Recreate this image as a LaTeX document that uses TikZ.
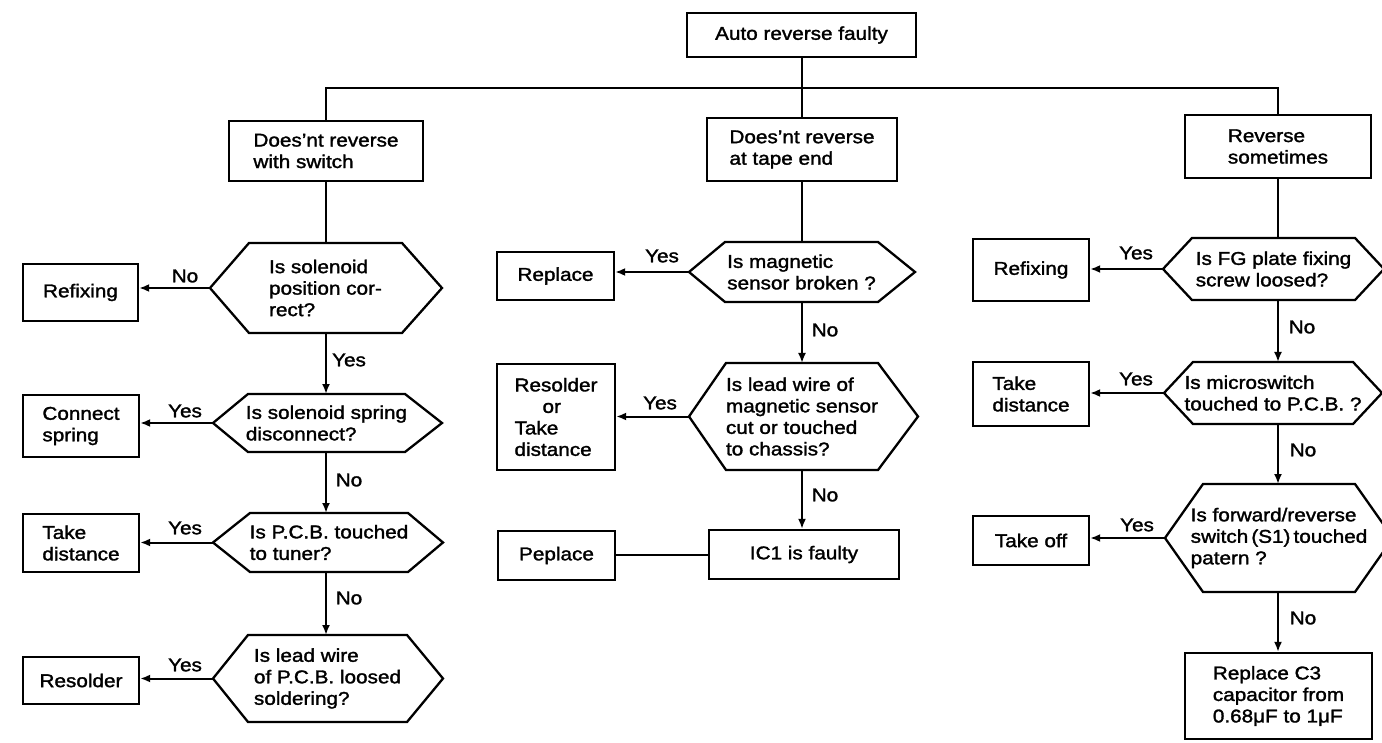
\documentclass[tikz,border=0pt]{standalone}
\usepackage{fontspec}
\setmainfont{Liberation Sans}[FakeStretch=1.12,FakeBold=1.6]
\usetikzlibrary{arrows.meta}

\tikzset{
  every node/.style={font=\fontsize{18.5}{21.5}\selectfont},
  box/.style={draw, line width=2.3pt, inner sep=0pt, align=left},
  qtext/.style={inner sep=0pt, align=left},
  hexline/.style={line width=2.3pt, line join=miter},
  conn/.style={line width=2pt},
  arrow/.style={conn, -{Latex[length=10pt,width=8pt]}},
  lab/.style={inner sep=0pt},
}

% question hexagon: name, left tip x, inner left x, inner right x, right tip x, top y, bottom y, text
\newcommand\hexnode[8]{%
  \draw[hexline] (#2,{(#6+#7)/2}) -- (#3,#6) -- (#4,#6) -- (#5,{(#6+#7)/2})
     -- (#4,#7) -- (#3,#7) -- cycle;
  \node[qtext] (#1) at ({(#3+#4)/2},{(#6+#7)/2}) {#8};
  \coordinate (#1-w) at (#2,{(#6+#7)/2});
  \coordinate (#1-n) at ({(#3+#4)/2},#6);
  \coordinate (#1-s) at ({(#3+#4)/2},#7);
}

\begin{document}
\begin{tikzpicture}[x=1pt,y=-1pt]
\clip (0,0) rectangle (1382,743);
\fill[white] (0,0) rectangle (1382,743);

% root and the three symptoms
\node[box, minimum width=229pt, minimum height=44pt] (top) at (801.5,35) {Auto reverse faulty};
\node[box, minimum width=194pt, minimum height=60pt] (b1) at (326,151) {Does’nt reverse\\with switch};
\node[box, minimum width=190pt, minimum height=63pt] (b2) at (802,149.5) {Does’nt reverse\\at tape end};
\node[box, minimum width=186pt, minimum height=63pt] (b3) at (1278,146.5) {Reverse\\sometimes};

\coordinate (jn) at (801.5,88);
\draw[conn] (top.south) -- (jn);
\draw[conn] (b1.north) |- (jn) -| (b3.north);
\draw[conn] (jn) -- (jn |- b2.north);

% ---- left column
\hexnode{L1}{210}{249}{402}{442}{243}{333}{Is solenoid\\position cor-\\rect?}
\hexnode{L2}{213}{248}{405}{442}{394}{452}{Is solenoid spring\\disconnect?}
\hexnode{L3}{213}{250}{408}{443}{513}{572}{Is P.C.B. touched\\to tuner?}
\hexnode{L4}{213}{248}{407}{443}{635}{722}{Is lead wire\\of P.C.B. loosed\\soldering?}

\node[box, minimum width=115pt, minimum height=57pt] (rfx1) at (80.5,292.5) {Refixing};
\node[box, minimum width=116pt, minimum height=62pt] (spr) at (81,426) {Connect\\spring};
\node[box, minimum width=116pt, minimum height=58pt] (tkd1) at (81,543) {Take\\distance};
\node[box, minimum width=116pt, minimum height=47pt] (rsl) at (81,680.5) {Resolder};

\draw[conn] (b1.south) -- (b1.south |- L1-n);
\draw[arrow] (b1.south |- L1-s) -- (b1.south |- L2-n);
\draw[arrow] (b1.south |- L2-s) -- (b1.south |- L3-n);
\draw[arrow] (b1.south |- L3-s) -- (b1.south |- L4-n);
\draw[arrow] (L1-w) -- (L1-w -| rfx1.east);
\draw[arrow] (L2-w) -- (L2-w -| spr.east);
\draw[arrow] (L3-w) -- (L3-w -| tkd1.east);
\draw[arrow] (L4-w) -- (L4-w -| rsl.east);

\node[lab] (lL1) at (185,276) {No};
\node[lab] (lL2) at (349,360) {Yes};
\node[lab] (lL3) at (185,411) {Yes};
\node[lab] (lL4) at (349,480) {No};
\node[lab] (lL5) at (185,528) {Yes};
\node[lab] (lL6) at (349,598) {No};
\node[lab] (lL7) at (185,665) {Yes};

% ---- middle column
\hexnode{M1}{689}{725}{878}{915}{242}{302}{Is magnetic\\sensor broken ?}
\hexnode{M2}{689}{726}{878}{918}{363}{470}{Is lead wire of\\magnetic sensor\\cut or touched\\to chassis?}

\node[box, minimum width=117pt, minimum height=48pt] (rpl) at (555.5,276) {Replace};
\node[box, minimum width=118pt, minimum height=106pt] (rso) at (556,417) {Resolder\\\hspace*{28pt}or\\Take\\distance};
\node[box, minimum width=117pt, minimum height=49pt] (pep) at (556.5,555.5) {Peplace};
\node[box, minimum width=190pt, minimum height=49pt] (ic1) at (804,554.5) {IC1 is faulty};

\draw[conn] (b2.south) -- (b2.south |- M1-n);
\draw[arrow] (b2.south |- M1-s) -- (b2.south |- M2-n);
\draw[arrow] (b2.south |- M2-s) -- (b2.south |- ic1.north);
\draw[arrow] (M1-w) -- (M1-w -| rpl.east);
\draw[arrow] (M2-w) -- (M2-w -| rso.east);
\draw[conn] (ic1.west) -- (ic1.west -| pep.east);

\node[lab] (lM1) at (662,256) {Yes};
\node[lab] (lM2) at (825,330) {No};
\node[lab] (lM3) at (660,403) {Yes};
\node[lab] (lM4) at (825,495) {No};

% ---- right column
\hexnode{R1}{1163}{1192}{1355}{1384}{238}{300}{Is FG plate fixing\\screw loosed?}
\hexnode{R2}{1164}{1193}{1353}{1382}{362}{424}{Is microswitch\\touched to P.C.B. ?}
\hexnode{R3}{1165}{1203}{1355}{1393}{484}{592}{Is forward/reverse\\switch\,(S1)\,touched\\patern ?}

\node[box, minimum width=116pt, minimum height=62pt] (rfx2) at (1031,270) {Refixing};
\node[box, minimum width=116pt, minimum height=64pt] (tkd2) at (1031,394) {Take\\distance};
\node[box, minimum width=116pt, minimum height=49pt] (tko) at (1031,540.5) {Take off};
\node[box, minimum width=187pt, minimum height=86pt] (c3) at (1278.5,696) {Replace C3\\capacitor from\\0.68μF to 1μF};

\draw[conn] (b3.south) -- (b3.south |- R1-n);
\draw[arrow] (b3.south |- R1-s) -- (b3.south |- R2-n);
\draw[arrow] (b3.south |- R2-s) -- (b3.south |- R3-n);
\draw[arrow] (b3.south |- R3-s) -- (b3.south |- c3.north);
\draw[arrow] (R1-w) -- (R1-w -| rfx2.east);
\draw[arrow] (R2-w) -- (R2-w -| tkd2.east);
\draw[arrow] (R3-w) -- (R3-w -| tko.east);

\node[lab] (lR1) at (1136,253) {Yes};
\node[lab] (lR2) at (1302,327) {No};
\node[lab] (lR3) at (1136,379) {Yes};
\node[lab] (lR4) at (1303,450) {No};
\node[lab] (lR5) at (1137,525) {Yes};
\node[lab] (lR6) at (1303,618) {No};
\end{tikzpicture}
\end{document}
